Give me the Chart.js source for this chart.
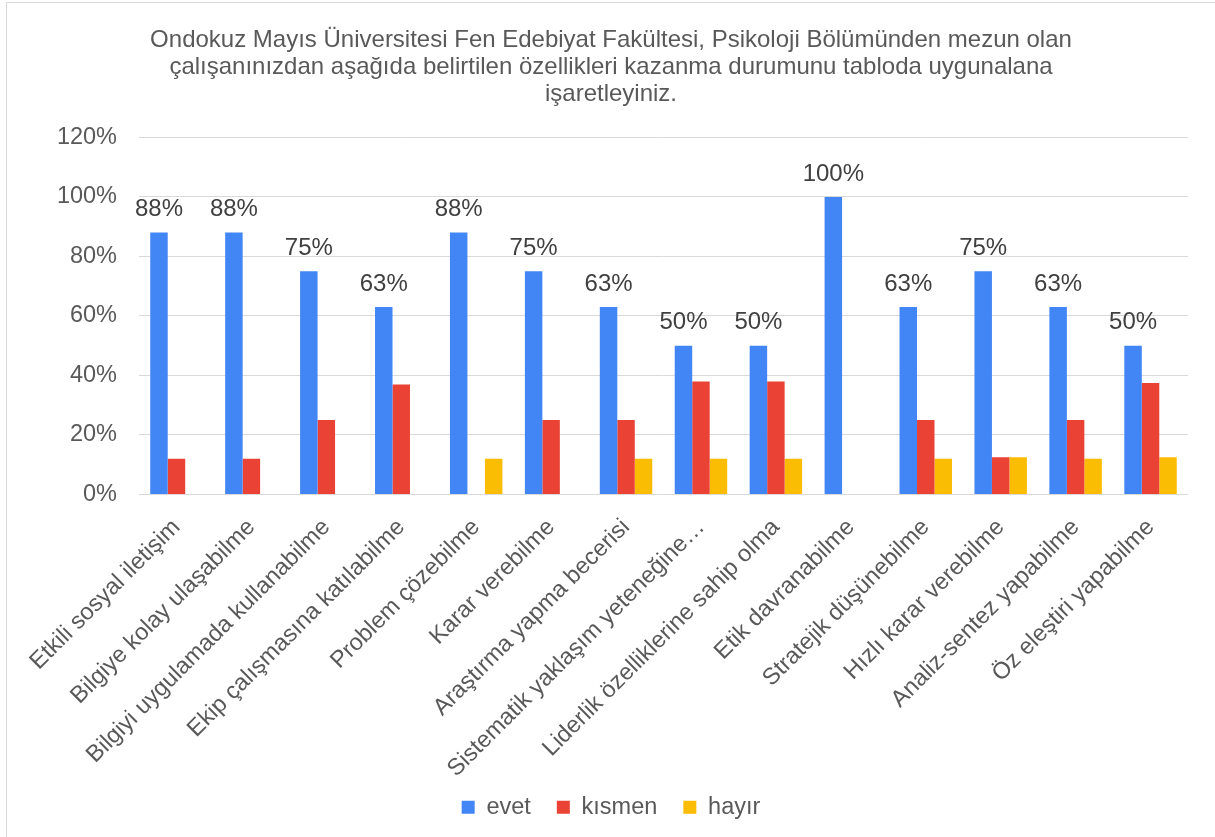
<!DOCTYPE html>
<html>
<head>
<meta charset="utf-8">
<script src="https://cdn.jsdelivr.net/npm/chart.js@4/dist/chart.umd.min.js"></script>
<style>
  html, body { margin:0; padding:0; background:#fff; overflow:hidden; }
  #wrap { position:absolute; left:6px; top:2px; width:1215px; height:840px; border:1px solid #d9d9d9; box-sizing:border-box; }
  canvas { display:block; }
</style>
</head>
<body>
<div id="wrap"><canvas id="chart"></canvas></div>
<script>
// ── Veriler ─────────────────────────────────────────────────────────────────
const categories = [
  'Etkili sosyal iletişim', 'Bilgiye kolay ulaşabilme', 'Bilgiyi uygulamada kullanabilme',
  'Ekip çalışmasına katılabilme', 'Problem çözebilme', 'Karar verebilme',
  'Araştırma yapma becerisi', 'Sistematik yaklaşım yeteneğine…', 'Liderlik özelliklerine sahip olma',
  'Etik davranabilme', 'Stratejik düşünebilme', 'Hızlı karar verebilme',
  'Analiz-sentez yapabilme', 'Öz eleştiri yapabilme'
];
const evet   = [88, 88, 75, 63, 88, 75, 63, 50, 50, 100, 63, 75, 63, 50];
const kismen = [12, 12, 25, 37, 0, 25, 25, 38, 38, 0, 25, 12.5, 25, 37.5];
const hayir  = [0, 0, 0, 0, 12, 0, 12, 12, 12, 0, 12, 12.5, 12, 12.5];
const yTicks = [0, 20, 40, 60, 80, 100, 120];

const titleLines = [
  'Ondokuz Mayıs Üniversitesi Fen Edebiyat Fakültesi, Psikoloji Bölümünden mezun olan',
  'çalışanınızdan aşağıda belirtilen özellikleri kazanma durumunu tabloda uygunalana',
  'işaretleyiniz.'
];

const FONT = '"Liberation Sans", Arial, sans-serif';

// etiketler sadece "evet" serisinin üstünde
const evetLabels = {
  id: 'evetLabels',
  afterDatasetsDraw(chart) {
    const ctx = chart.ctx, meta = chart.getDatasetMeta(0);
    ctx.save();
    ctx.font = '24px ' + FONT; ctx.fillStyle = '#404040';
    ctx.textAlign = 'center'; ctx.textBaseline = 'bottom';
    meta.data.forEach((bar, i) => {
      ctx.fillText(Math.round(evet[i]) + '%', bar.x, bar.y - 11);
    });
    ctx.restore();
  }
};

// uzun x etiketleri eksen kutusunun altında kesilmesin
const unclipX = {
  id: 'unclipX',
  afterLayout(chart) {
    const x = chart.scales.x;
    x.bottom += 24; x.height += 24;
  }
};

new Chart(document.getElementById('chart'), {
  type: 'bar',
  data: {
    labels: categories,
    datasets: [
      { label:'evet',   data:evet,   backgroundColor:'#4285f4' },
      { label:'kısmen', data:kismen, backgroundColor:'#ea4335' },
      { label:'hayır',  data:hayir,  backgroundColor:'#fbbc04' }
    ]
  },
  options: {
    responsive: true, maintainAspectRatio: false, animation: false,
    layout: { padding: { left: 27, right: 32, top: 24, bottom: 12 } },
    datasets: { bar: { categoryPercentage: 0.70, barPercentage: 1.0 } },
    plugins: {
      title: {
        display: true, text: titleLines, color: '#595959',
        font: { family: FONT, size: 24, weight: 'normal', lineHeight: 1.13 },
        padding: { top: 0, bottom: 29 }
      },
      legend: {
        position: 'bottom',
        labels: { color:'#595959', font:{ family:FONT, size:23.5 }, boxWidth:13, boxHeight:13, padding:26 }
      },
      tooltip: { enabled: false }
    },
    scales: {
      x: {
        grid: { display: false },
        border: { display: false },
        ticks: { color:'#595959', font:{ family:FONT, size:23.5 }, maxRotation:45, minRotation:45, autoSkip:false, padding: 11 },
        afterFit: axis => { axis.height = 275; }
      },
      y: {
        min: 0, max: 120,
        afterBuildTicks: axis => { axis.ticks = yTicks.map(v => ({ value: v })); },
        grid: { color:'#d9d9d9', lineWidth:1, drawTicks:false },
        border: { display: false },
        ticks: { color:'#595959', font:{ family:FONT, size:23.5 }, padding: 22, callback: v => v + '%' },
        afterFit: axis => { axis.width = 105; }
      }
    }
  },
  plugins: [evetLabels, unclipX]
});
</script>
</body>
</html>
